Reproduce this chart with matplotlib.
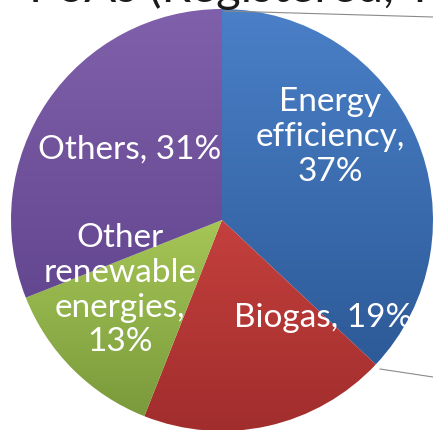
import numpy as np
import matplotlib
matplotlib.use("Agg")
import matplotlib.pyplot as plt
from matplotlib.colors import LinearSegmentedColormap

categories = ["Energy\nefficiency", "Biogas", "Other\nrenewable\nenergies", "Others"]
shares = [37, 19, 13, 31]
label_text = ["Energy\nefficiency,\n37%", "Biogas, 19%", "Other\nrenewable\nenergies,\n13%", "Others, 31%"]
title_text = "PoAs (Registered, Total)"

# style
top_colors = ["#4A80C8", "#C4403D", "#A6C657", "#8060AA"]
bot_colors = ["#2D5A98", "#A02D2C", "#7A9A3C", "#634790"]
label_pos = [(37.5, 136), (-44.0, 141), (-145.5, 124), (142.7, 116)]  # (angle deg, radius px)

W, H = 433, 430
cx, cy, R = 222, 210, 211

fig = plt.figure(figsize=(W / 100, H / 100), dpi=100)
ax = fig.add_axes([0, 0, 1, 1])

wedges, _ = ax.pie(shares, startangle=90, counterclock=False, center=(cx, cy), radius=R,
                   colors=top_colors, wedgeprops=dict(linewidth=0))
ax.set_xlim(0, W)
ax.set_ylim(0, H)
ax.set_aspect("auto")
ax.axis("off")

grad = np.linspace(1, 0, 256).reshape(-1, 1)
for w, c1, c2 in zip(wedges, top_colors, bot_colors):
    w.set_facecolor("none")
    verts = w.get_path().vertices
    verts = w.get_transform().transform(verts)
    inv = ax.transData.inverted()
    dv = inv.transform(verts)
    x0, x1 = dv[:, 0].min(), dv[:, 0].max()
    y0, y1 = dv[:, 1].min(), dv[:, 1].max()
    cmap = LinearSegmentedColormap.from_list("g", [c2, c1])
    im = ax.imshow(grad, cmap=cmap, extent=(x0, x1, y0, y1), origin="upper",
                   aspect="auto", zorder=1, interpolation="bilinear")
    im.set_clip_path(w)

for txt, (ang, r) in zip(label_text, label_pos):
    a = np.deg2rad(ang)
    ax.text(cx + r * np.cos(a), cy + r * np.sin(a), txt, ha="center", va="center",
            color="white", fontsize=24, family="Lato", linespacing=1.2, zorder=5)

# leader lines
ax.plot([224, 433], [H - 11, H - 17], color="#8a8a8a", lw=0.8, zorder=6)
ax.plot([380, 433], [H - 369, H - 377], color="#8a8a8a", lw=0.8, zorder=6)

ax.text(29, H - 2, title_text, ha="left", va="baseline", fontsize=34, family="Lato",
        color="#1a1a1a", zorder=6)

fig.savefig("out.png", dpi=100)
